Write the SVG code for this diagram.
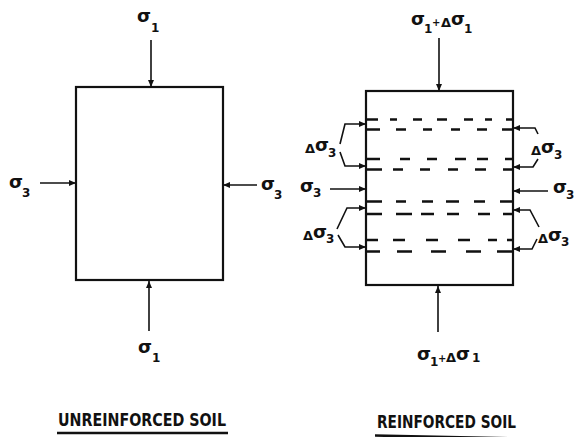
<svg xmlns="http://www.w3.org/2000/svg" width="577" height="437" viewBox="0 0 577 437">
<defs>
<marker id="ah" markerUnits="userSpaceOnUse" markerWidth="8" markerHeight="6" refX="7" refY="3" orient="auto">
<path d="M0,0 L7,3 L0,6 Z" fill="#111"/>
</marker>
<style>
.box{fill:none;stroke:#111;stroke-width:2.2}
.arr{fill:none;stroke:#111;stroke-width:1.6;marker-end:url(#ah)}
.dash{fill:none;stroke:#111;stroke-width:2.6}
.sym{font-family:"DejaVu Sans",sans-serif;font-weight:bold;font-size:18px;fill:#111}
.sub{font-size:12px}
.d{font-size:13px}
.pl{font-size:10px}
.ttl{font-family:"DejaVu Sans",sans-serif;font-weight:bold;font-size:18px;fill:#111}
.ul{stroke:#111;stroke-width:2.6}
</style>
</defs>
<rect width="577" height="437" fill="#fff"/>

<g id="unreinforced">
<rect class="box" x="76" y="87" width="147" height="193"/>
</g>
<g id="unreinforced-labels">
<text class="sym"><tspan x="137" y="22">σ</tspan><tspan class="sub" x="151" y="32">1</tspan></text>
<text class="sym"><tspan x="138" y="353">σ</tspan><tspan class="sub" x="152" y="362">1</tspan></text>
<text class="sym"><tspan x="9" y="188">σ</tspan><tspan class="sub" x="22" y="197">3</tspan></text>
<text class="sym"><tspan x="261" y="190">σ</tspan><tspan class="sub" x="274" y="199">3</tspan></text>
<text class="ttl" x="58" y="426" textLength="168" lengthAdjust="spacingAndGlyphs">UNREINFORCED SOIL</text>
<line class="ul" x1="57" y1="433" x2="228" y2="433"/>
</g>

<g id="reinforced">
<rect class="box" x="366" y="91" width="147" height="194"/>
<path class="dash" d="M367,119.5H378M390,119.5H397M413,119.5H422M437,119.5H447M464,119.5H473M485,119.5H492M506,119.5H513
M367,129.5H380M396,129.5H406M423,129.5H432M451,129.5H460M477,129.5H487M502,129.5H513
M367,159H380M400,159H410M427,159H437M455,159H466M477,159H488M505,159H513
M367,169.5H382M393,169.5H403M420,169.5H430M448,169.5H458M475,169.5H486M503,169.5H513
M367,201.5H382M396,201.5H406M422,201.5H433M446,201.5H459M474,201.5H485M500,201.5H513
M367,214H382M396,214H412M421,214H434M447,214H459M478,214H490M503,214H513
M367,240H378M393,240H405M426,240H438M458,240H470M488,240H497M507,240H513
M367,251.5H380M397,251.5H412M431,251.5H446M466,251.5H481M497,251.5H513"/>
</g>
<g id="reinforced-labels">
<text class="sym"><tspan x="411" y="25">σ</tspan><tspan class="sub" x="424" y="33">1</tspan><tspan class="pl" x="432" y="26">+</tspan><tspan class="d" x="441" y="27">Δ</tspan><tspan x="451" y="25">σ</tspan><tspan class="sub" x="464" y="33">1</tspan></text>

<text class="sym"><tspan x="417" y="360">σ</tspan><tspan class="sub" x="430" y="366">1</tspan><tspan class="pl" x="438" y="362">+</tspan><tspan class="d" x="446" y="362">Δ</tspan><tspan x="456" y="360">σ</tspan><tspan class="sub" x="472" y="362">1</tspan></text>

<text class="sym"><tspan class="d" x="305" y="153">Δ</tspan><tspan x="315" y="151">σ</tspan><tspan class="sub" x="328" y="157">3</tspan></text>
<text class="sym"><tspan x="300" y="192">σ</tspan><tspan class="sub" x="313" y="197">3</tspan></text>
<text class="sym"><tspan class="d" x="303" y="240">Δ</tspan><tspan x="313" y="238">σ</tspan><tspan class="sub" x="326" y="243">3</tspan></text>

<text class="sym"><tspan class="d" x="531" y="155">Δ</tspan><tspan x="541" y="153">σ</tspan><tspan class="sub" x="554" y="159">3</tspan></text>
<text class="sym"><tspan x="553" y="193">σ</tspan><tspan class="sub" x="566" y="199">3</tspan></text>
<text class="sym"><tspan class="d" x="538" y="243">Δ</tspan><tspan x="548" y="241">σ</tspan><tspan class="sub" x="561" y="246">3</tspan></text>

<text class="ttl" x="377" y="428" textLength="139" lengthAdjust="spacingAndGlyphs">REINFORCED SOIL</text>
<line class="ul" x1="375" y1="435.5" x2="518" y2="438.5"/>
</g>

<g id="connectors">
<line class="arr" x1="151" y1="40" x2="151" y2="87"/>
<line class="arr" x1="149" y1="331" x2="149" y2="281"/>
<line class="arr" x1="40" y1="183" x2="76" y2="183"/>
<line class="arr" x1="257" y1="185" x2="223" y2="185"/>

<line class="arr" x1="439" y1="38" x2="439" y2="91"/>
<line class="arr" x1="438" y1="332" x2="438" y2="286"/>
<polyline class="arr" points="340,144 345,124 366,124"/>
<polyline class="arr" points="340,152 345,166 366,166"/>
<line class="arr" x1="330" y1="189" x2="366" y2="189"/>
<polyline class="arr" points="337,229 347,208 366,208"/>
<polyline class="arr" points="338,235 345,247 366,247"/>
<polyline class="arr" points="538,134 535,128 513,128"/>
<polyline class="arr" points="538,159 533,167 513,167"/>
<line class="arr" x1="548" y1="191" x2="513" y2="191"/>
<polyline class="arr" points="539,227 530,210 513,210"/>
<polyline class="arr" points="537,239 532,249 513,249"/>
</g>
</svg>
